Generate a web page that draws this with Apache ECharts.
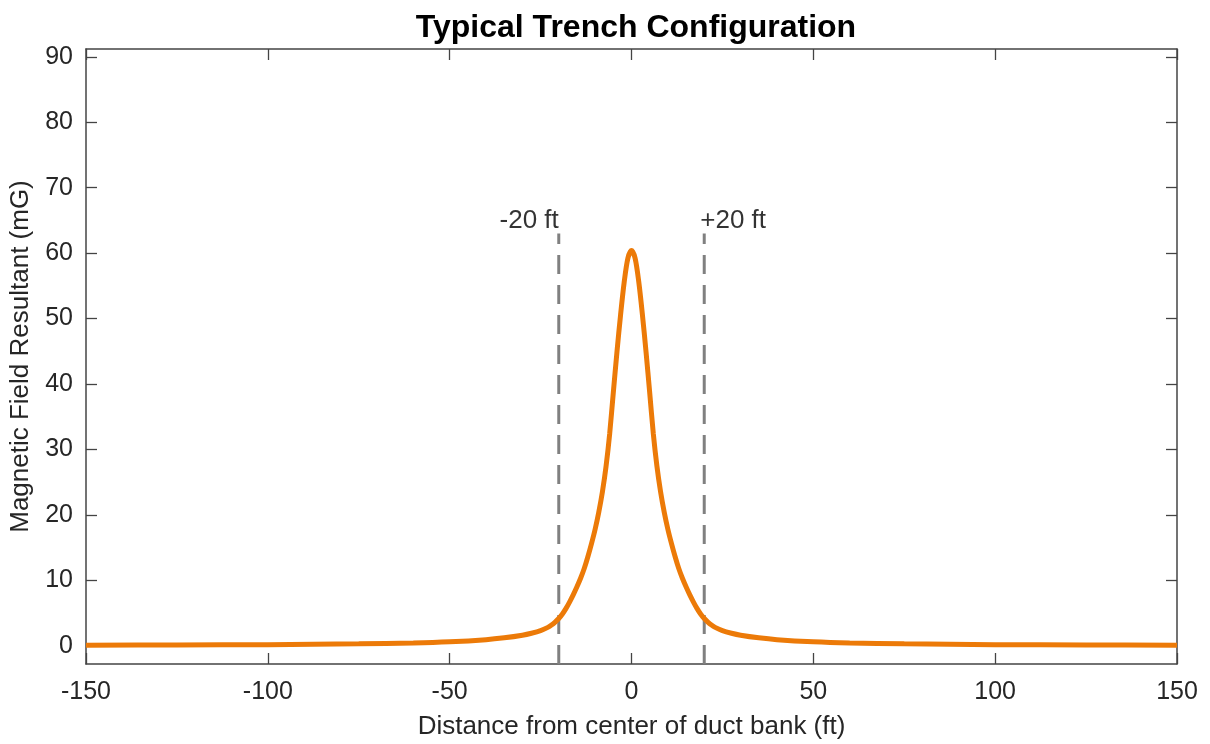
<!DOCTYPE html>
<html>
<head>
<meta charset="utf-8">
<script src="https://cdn.jsdelivr.net/npm/echarts@6/dist/echarts.min.js"></script>
<style>
html, body { margin: 0; padding: 0; background: #fff; }
#chart { width: 1210px; height: 744px; }
</style>
</head>
<body>
<div id="chart"></div>
<script>
// distance (ft) and field (mG)
const distance = [-150, -125, -100, -75, -60, -50, -40, -35, -30, -27.5, -25, -23, -22, -21, -20, -19, -18, -17, -16, -15, -14, -13, -12, -11, -10, -9, -8, -7, -6, -5, -4, -3, -2, -1,
  0, 1, 2, 3, 4, 5, 6, 7, 8, 9, 10, 11, 12, 13, 14, 15, 16, 17, 18, 19, 20, 21, 22, 23, 25, 27.5, 30, 35, 40, 50, 60, 75, 100, 125, 150];
const field = [0.07, 0.1, 0.16, 0.28, 0.42, 0.6, 0.92, 1.2, 1.6, 1.9, 2.3, 2.8, 3.15, 3.6, 4.15, 4.85, 5.7, 6.7, 7.8, 9.0, 10.3, 11.8, 13.6, 15.6, 17.8, 20.4, 23.5, 27.4, 32.4, 38.7, 44.9, 50.6, 55.6, 59.2,
  60.4, 59.2, 55.6, 50.6, 44.9, 38.7, 32.4, 27.4, 23.5, 20.4, 17.8, 15.6, 13.6, 11.8, 10.3, 9.0, 7.8, 6.7, 5.7, 4.85, 4.15, 3.6, 3.15, 2.8, 2.3, 1.9, 1.6, 1.2, 0.92, 0.6, 0.42, 0.28, 0.16, 0.1, 0.07];

const markerX = [-20, 20];
const markerText = ['-20 ft', '+20 ft'];
const markerTop = 63;
const labelY = 65;

const yTicks = [0, 10, 20, 30, 40, 50, 60, 70, 80, 90];
const xMin = -150, xMax = 150, xStep = 50;
const yMin = -2.8, yMax = 91.2;

const axisColor = '#444444';
const textColor = '#262626';
const font = 'Liberation Sans, Arial, Helvetica, sans-serif';

const chart = echarts.init(document.getElementById('chart'));

const curve = distance.map((d, i) => [d, field[i]]);

const dashSeries = markerX.map(x => ({
  type: 'line',
  data: [[x, yMin], [x, markerTop]],
  symbol: 'none',
  silent: true,
  lineStyle: { color: '#808080', width: 3, type: [19, 11] },
  z: 1
}));

const labelData = markerX.map((x, i) => ({
  value: [x, labelY],
  label: {
    show: true,
    formatter: markerText[i],
    position: i === 0 ? 'left' : 'right',
    distance: i === 0 ? 0 : -4,
    color: '#000',
    fontSize: 26,
    fontFamily: font
  }
}));

const tickStyle = { inside: true, length: 11, lineStyle: { color: axisColor, width: 1.3 } };
const lineStyle = { show: true, onZero: false, lineStyle: { color: axisColor, width: 1.5 } };

const option = {
  backgroundColor: '#fff',
  animation: false,
  title: {
    text: 'Typical Trench Configuration',
    left: 631,
    textAlign: 'center',
    top: 7,
    textStyle: { color: '#000', fontSize: 32, fontWeight: 'bold', fontFamily: font }
  },
  grid: { left: 86, right: 33, top: 49, bottom: 80, outerBoundsMode: 'none' },
  xAxis: [{
    type: 'value',
    min: xMin, max: xMax, interval: xStep,
    name: 'Distance from center of duct bank (ft)',
    nameLocation: 'middle',
    nameGap: 50,
    nameTextStyle: { color: textColor, fontSize: 26, fontFamily: font },
    axisLine: lineStyle,
    axisTick: tickStyle,
    splitLine: { show: false },
    axisLabel: { color: textColor, fontSize: 25, margin: 16, fontFamily: font }
  }, {
    type: 'value', position: 'top',
    min: xMin, max: xMax, interval: xStep,
    axisLine: lineStyle,
    axisTick: tickStyle,
    axisLabel: { show: false },
    splitLine: { show: false }
  }],
  yAxis: [{
    type: 'value',
    min: yMin, max: yMax,
    name: 'Magnetic Field Resultant (mG)',
    nameLocation: 'middle',
    nameGap: 51,
    nameTextStyle: { color: textColor, fontSize: 26, fontFamily: font },
    axisLine: lineStyle,
    axisTick: Object.assign({ customValues: yTicks }, tickStyle),
    splitLine: { show: false },
    axisLabel: { customValues: yTicks, color: textColor, fontSize: 25, margin: 13, fontFamily: font }
  }, {
    type: 'value', position: 'right',
    min: yMin, max: yMax,
    axisLine: lineStyle,
    axisTick: Object.assign({ customValues: yTicks }, tickStyle),
    axisLabel: { show: false },
    splitLine: { show: false }
  }],
  series: [
    ...dashSeries,
    {
      type: 'line',
      data: curve,
      symbol: 'none',
      smooth: 0.3,
      lineStyle: { color: '#EC7A08', width: 5 },
      z: 3
    },
    {
      type: 'scatter',
      data: labelData,
      symbolSize: 0,
      silent: true,
      z: 4
    }
  ]
};

chart.setOption(option);
</script>
</body>
</html>
